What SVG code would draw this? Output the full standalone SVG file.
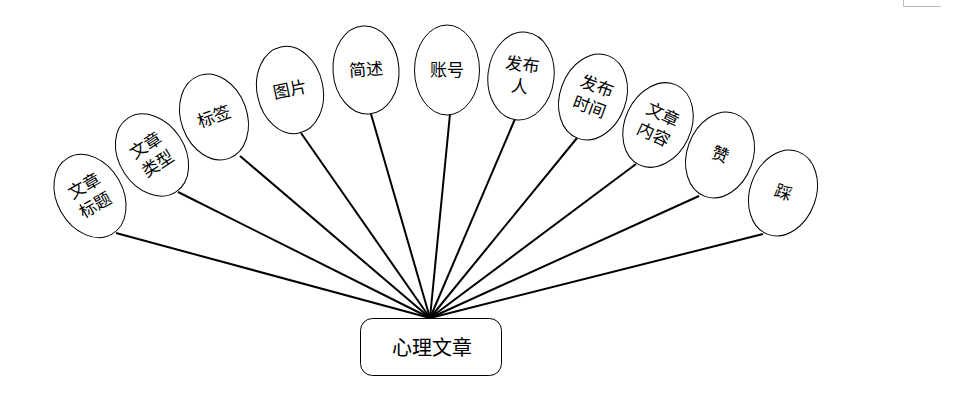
<svg xmlns="http://www.w3.org/2000/svg" width="956" height="404" viewBox="0 0 956 404">
<style>
.n ellipse{fill:#fff;stroke:#000;stroke-width:1}
.n text,.root text{font-family:"Liberation Serif","Noto Sans CJK SC",serif;font-size:17px;fill:#000;text-anchor:middle;dominant-baseline:central}
.root text{font-size:20px}
.root rect{fill:#fff;stroke:#000;stroke-width:1}
#connectors line{stroke:#000;stroke-width:2}
</style>
<rect width="956" height="404" fill="#fff"/>
<path d="M903.5,0 V6.5 H941" fill="none" stroke="#bbb" stroke-width="1"/>
<g id="connectors">
<line x1="116" y1="233" x2="430" y2="318"/>
<line x1="178" y1="192" x2="430" y2="318"/>
<line x1="240" y1="156" x2="430" y2="318"/>
<line x1="301" y1="133" x2="430" y2="318"/>
<line x1="371" y1="114" x2="430" y2="318"/>
<line x1="450" y1="114" x2="430" y2="318"/>
<line x1="515" y1="119" x2="430" y2="318"/>
<line x1="577" y1="138" x2="430" y2="318"/>
<line x1="636" y1="164" x2="430" y2="318"/>
<line x1="699" y1="196" x2="430" y2="318"/>
<line x1="763" y1="234" x2="430" y2="318"/>
</g>
<g id="n1" class="n" transform="translate(90,196) rotate(-30)"><ellipse rx="33" ry="44"/><text y="-11">文章</text><text y="11">标题</text></g>
<g id="n2" class="n" transform="translate(152,155) rotate(-33)"><ellipse rx="33" ry="44"/><text y="-11">文章</text><text y="11">类型</text></g>
<g id="n3" class="n" transform="translate(214,117) rotate(-20)"><ellipse rx="33" ry="44"/><text>标签</text></g>
<g id="n4" class="n" transform="translate(290,90) rotate(-12)"><ellipse rx="33" ry="44"/><text>图片</text></g>
<g id="n5" class="n" transform="translate(366,70) rotate(-4)"><ellipse rx="33" ry="44"/><text>简述</text></g>
<g id="n6" class="n" transform="translate(447,70) rotate(0)"><ellipse rx="32.5" ry="45"/><text>账号</text></g>
<g id="n7" class="n" transform="translate(521,76) rotate(7)"><ellipse rx="33" ry="44"/><text y="-11">发布</text><text y="11">人</text></g>
<g id="n8" class="n" transform="translate(593,97) rotate(20)"><ellipse rx="33" ry="44"/><text y="-11">发布</text><text y="11">时间</text></g>
<g id="n9" class="n" transform="translate(658,125) rotate(25)"><ellipse rx="33" ry="44"/><text y="-11">文章</text><text y="11">内容</text></g>
<g id="n10" class="n" transform="translate(720,155) rotate(20)"><ellipse rx="33" ry="44"/><text>赞</text></g>
<g id="n11" class="n" transform="translate(783,193) rotate(20)"><ellipse rx="33" ry="44"/><text>踩</text></g>
<g id="root" class="root"><rect x="360.5" y="318.5" width="141" height="57" rx="12"/><text x="432" y="348">心理文章</text></g>
</svg>
